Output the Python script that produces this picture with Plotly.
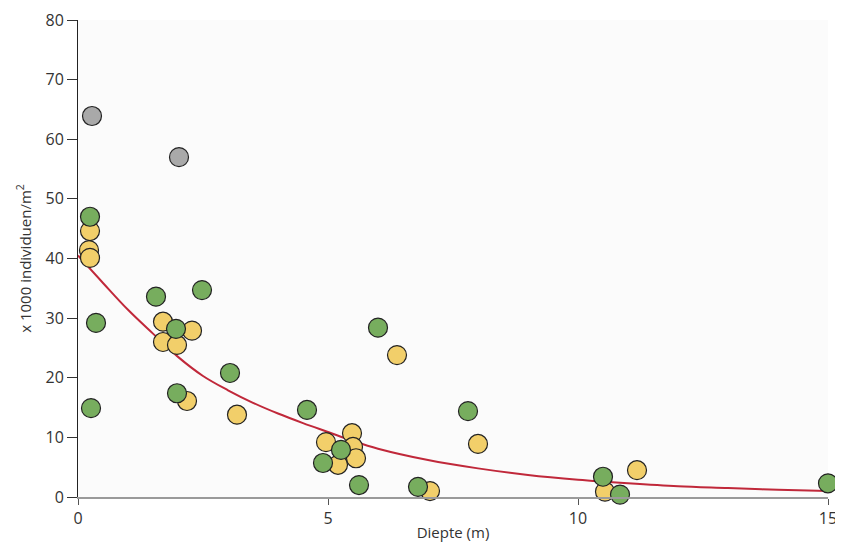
import plotly.graph_objects as go

# --- data ---
gray_x = [0.28, 2.02]
gray_y = [63.9, 57.0]

yellow_x = [0.24, 0.22, 0.24, 1.7, 2.28, 1.7, 1.98, 2.18, 3.18,
            5.48, 4.96, 5.5, 5.56, 5.2, 6.38, 8.0, 7.04, 11.18, 10.54]
yellow_y = [44.6, 41.4, 40.1, 29.4, 27.9, 26.0, 25.5, 16.1, 13.8,
            10.7, 9.2, 8.4, 6.5, 5.4, 23.8, 8.9, 1.0, 4.5, 0.9]

green_x = [0.24, 0.36, 0.26, 1.56, 2.48, 1.96, 3.04, 1.98, 4.58,
           5.26, 4.9, 5.62, 6.0, 7.8, 6.8, 10.5, 10.84, 15.0]
green_y = [47.0, 29.2, 14.9, 33.6, 34.7, 28.2, 20.8, 17.4, 14.6,
           7.9, 5.7, 2.0, 28.4, 14.4, 1.7, 3.4, 0.4, 2.3]

curve_x = [0, 0.5, 1, 1.5, 2, 2.5, 3, 3.5, 4, 4.5, 5, 5.5, 6, 7, 8, 9, 10, 11, 12, 13, 14, 15]
curve_y = [40.5, 35.9, 31.4, 27.4, 23.5, 20.3, 17.9, 15.8, 14.0, 12.4, 10.9, 9.4,
           8.1, 6.2, 4.8, 3.7, 2.9, 2.3, 1.8, 1.5, 1.2, 1.0]

x_ticks = [0, 5, 10, 15]
y_ticks = [0, 10, 20, 30, 40, 50, 60, 70, 80]

fig = go.Figure()

fig.add_trace(go.Scatter(
    x=curve_x, y=curve_y, mode="lines", line=dict(color="#c0283a", width=2, shape="spline"),
    hoverinfo="skip", showlegend=False, cliponaxis=False))

marker_line = dict(color="#222222", width=1.2)
fig.add_trace(go.Scatter(
    x=gray_x, y=gray_y, mode="markers", showlegend=False, cliponaxis=False,
    marker=dict(size=19, color="#a9a9a9", line=marker_line)))
fig.add_trace(go.Scatter(
    x=yellow_x, y=yellow_y, mode="markers", showlegend=False, cliponaxis=False,
    marker=dict(size=19, color="#f2cf6a", line=marker_line)))
fig.add_trace(go.Scatter(
    x=green_x, y=green_y, mode="markers", showlegend=False, cliponaxis=False,
    marker=dict(size=19, color="#77ad5e", line=marker_line)))

font_family = "Open Sans, Liberation Sans, Arial, sans-serif"

# the page body adds an 8px offset; margins compensate so the plot area
# lands at x 78..828, y 20..497 in the window
fig.update_layout(
    width=843, height=542,
    margin=dict(l=70, r=23, t=12, b=53, autoexpand=False),
    paper_bgcolor="white",
    plot_bgcolor="#fbfbfb",
    font=dict(family=font_family, size=16, color="#333333"),
    xaxis=dict(
        range=[0, 15], tickvals=x_ticks, ticktext=[str(v) for v in x_ticks],
        showgrid=False, zeroline=False, showline=True, linecolor="#9a9a9a", linewidth=1.5,
        ticks="outside", ticklen=6, tickcolor="#555555", automargin=False,
        tickfont=dict(size=16, color="#333333"),
        title=dict(text="Diepte (m)", font=dict(size=15, color="#333333"), standoff=0),
    ),
    yaxis=dict(
        range=[0, 80], tickvals=y_ticks, ticktext=[str(v) for v in y_ticks],
        showgrid=False, zeroline=False, showline=True, linecolor="#222222", linewidth=1,
        ticks="outside", ticklen=10, tickcolor="#333333", automargin=False,
        tickfont=dict(size=16, color="#333333"),
        title=dict(text="x 1000 individuen/m<sup>2</sup>", font=dict(size=15, color="#333333"), standoff=10),
    ),
)

fig.write_html("out.html")
